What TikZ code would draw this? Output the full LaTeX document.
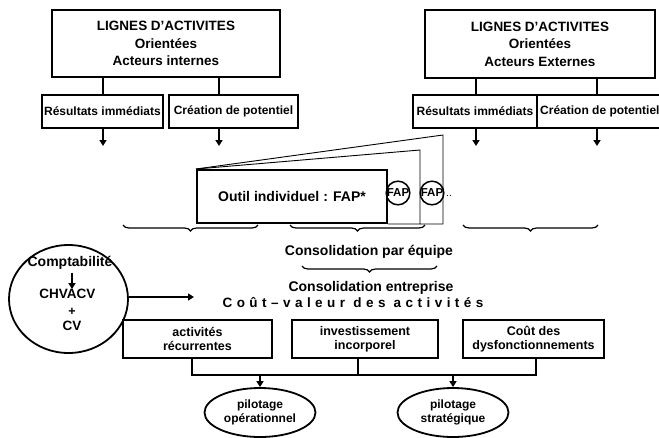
\documentclass[tikz,border=0pt]{standalone}
\usepackage{fontspec}
\setmainfont{Liberation Sans}
\usetikzlibrary{arrows.meta,shapes.geometric,decorations.pathreplacing}
\begin{document}
\begin{tikzpicture}[x=1pt,y=-1pt,font=\bfseries,
  box/.style={draw,line width=2pt,inner sep=0pt,align=center},
  bigtxt/.style={font=\bfseries\fontsize{13.5}{17.5}\selectfont},
  smalltxt/.style={font=\bfseries\fontsize{12}{14}\selectfont},
  midtxt/.style={font=\bfseries\fontsize{14}{16}\selectfont},
  bottxt/.style={font=\bfseries\fontsize{12.5}{14}\selectfont},
  conn/.style={line width=1.5pt},
  arr/.style={conn,-{Triangle[width=7pt,length=6pt]}},
  page/.style={line width=0.9pt},
  brc/.style={decorate,decoration={brace,mirror,amplitude=6pt},line width=1.2pt},
  ell/.style={draw,ellipse,line width=1.8pt,inner sep=0pt,align=center},
  fap/.style={draw,circle,line width=1.5pt,minimum size=22pt,inner sep=0pt,font=\bfseries\fontsize{11.5}{12}\selectfont}]
\useasboundingbox (0,0) rectangle (659,437);
\clip (0,0) rectangle (659,437);

% top boxes
\node[box,bigtxt,minimum width=228pt,minimum height=67pt] (lai) at (166,43.5)
  {LIGNES D’ACTIVITES\\Orientées\\Acteurs internes};
\node[box,bigtxt,minimum width=230pt,minimum height=68pt] (lae) at (540,44)
  {LIGNES D’ACTIVITES\\Orientées\\Acteurs Externes};

\node[box,smalltxt,minimum width=121pt,minimum height=33pt] (ri) at (102.5,111.5) {Résultats immédiats};
\node[box,smalltxt,minimum width=129pt,minimum height=33pt] (ci) at (233.5,111.5) {Création de potentiel};
\node[box,smalltxt,minimum width=124pt,minimum height=33pt] (re) at (475,111.5) {Résultats immédiats};
\node[box,minimum width=125pt,minimum height=33pt] (ce) at (599.5,111.5) {};
\node[smalltxt,anchor=west,inner sep=0pt] (cet) at (540,111.5) {Création de potentiel};

\coordinate (k1) at (103,0);
\coordinate (k2) at (219,0);
\coordinate (k3) at (476,0);
\coordinate (k4) at (597,0);
\draw[conn] (lai.south -| k1) -- (ri.north -| k1);
\draw[conn] (lai.south -| k2) -- (ci.north -| k2);
\draw[conn] (lae.south -| k3) -- (re.north -| k3);
\draw[conn] (lae.south -| k4) -- (ce.north -| k4);

\coordinate (d1) at (103,146);
\coordinate (d2) at (219,146);
\coordinate (d3) at (476,146);
\coordinate (d4) at (597,146);
\draw[arr] (ri.south -| d1) -- (d1);
\draw[arr] (ci.south -| d2) -- (d2);
\draw[arr] (re.south -| d3) -- (d3);
\draw[arr] (ce.south -| d4) -- (d4);

% individual tool with stacked pages
\node[box,midtxt,minimum width=190pt,minimum height=53pt] (outil) at (292,196.5) {Outil individuel : FAP*};
\coordinate (p2) at (420,150);
\coordinate (p3) at (443,135);
\draw[page] (outil.north west) -- (p2) -- (p2 |- outil.south) -- (outil.south east);
\draw[page] (outil.north west) -- (p3) -- (p3 |- outil.south) -- (p2 |- outil.south);
\node[fap] (fap1) at (398,193) {FAP};
\node[fap] (fap2) at (432,193) {FAP};
\node[inner sep=0pt,font=\fontsize{10}{12}\selectfont] (dots) at (449,196) {..};

% braces
\draw[brc] (123,225) -- (258,225);
\draw[brc] (290,225) -- (425,225);
\draw[brc] (463,225) -- (598,225);
\node[midtxt] (cpe) at (369,252) {Consolidation par équipe};
\draw[brc] (302,266) -- (437,266);
\node[midtxt] (cent) at (371,288) {Consolidation entreprise};
\node[font=\bfseries\fontsize{13.5}{15}\selectfont\addfontfeature{LetterSpace=33}] (cva) at (353,303) {Coût–valeur des activités};

% comptabilite ellipse
\node[ell,minimum width=119pt,minimum height=108pt] (compta) at (68.5,299) {};
\node[midtxt,inner sep=0pt] (ct1) at (70,263) {Comptabilité};
\node[font=\bfseries\fontsize{13.5}{15}\selectfont,inner sep=0pt] (ct2) at (67.5,294) {CHVACV};
\node[bottxt,inner sep=0pt] (ct3) at (72,312) {+};
\node[font=\bfseries\fontsize{13.5}{15}\selectfont,inner sep=0pt] (ct4) at (72,326) {CV};
\draw[arr] (ct1.south -| ct3) ++(0,3) -- (ct2.north -| ct3);
\coordinate (ae) at (194,297);
\draw[arr] (compta.east |- ae) -- (ae);

% bottom boxes
\node[box,bottxt,line width=1.8pt,minimum width=149pt,minimum height=38pt] (b1) at (197.5,339) {activités\\récurrentes};
\node[box,bottxt,line width=1.8pt,minimum width=146pt,minimum height=38pt] (b2) at (365,339) {investissement\\incorporel};
\node[box,bottxt,line width=1.8pt,minimum width=141pt,minimum height=38pt] (b3) at (533.5,339) {Coût des\\dysfonctionnements};

\coordinate (j1) at (192,375);
\coordinate (j2) at (358,375);
\coordinate (j3) at (536,375);
\draw[conn] (b1.south -| j1) -- (j1) -- (j3) -- (b3.south -| j3);
\draw[conn] (b2.south -| j2) -- (j2);

\node[ell,smalltxt,minimum width=111pt,minimum height=49pt] (po) at (260,412.5) {pilotage\\opérationnel};
\node[ell,smalltxt,minimum width=111pt,minimum height=49pt] (ps) at (453,412.5) {pilotage\\stratégique};
\draw[arr] (po.north |- j1) -- (po.north);
\draw[arr] (ps.north |- j1) -- (ps.north);
\end{tikzpicture}
\end{document}
